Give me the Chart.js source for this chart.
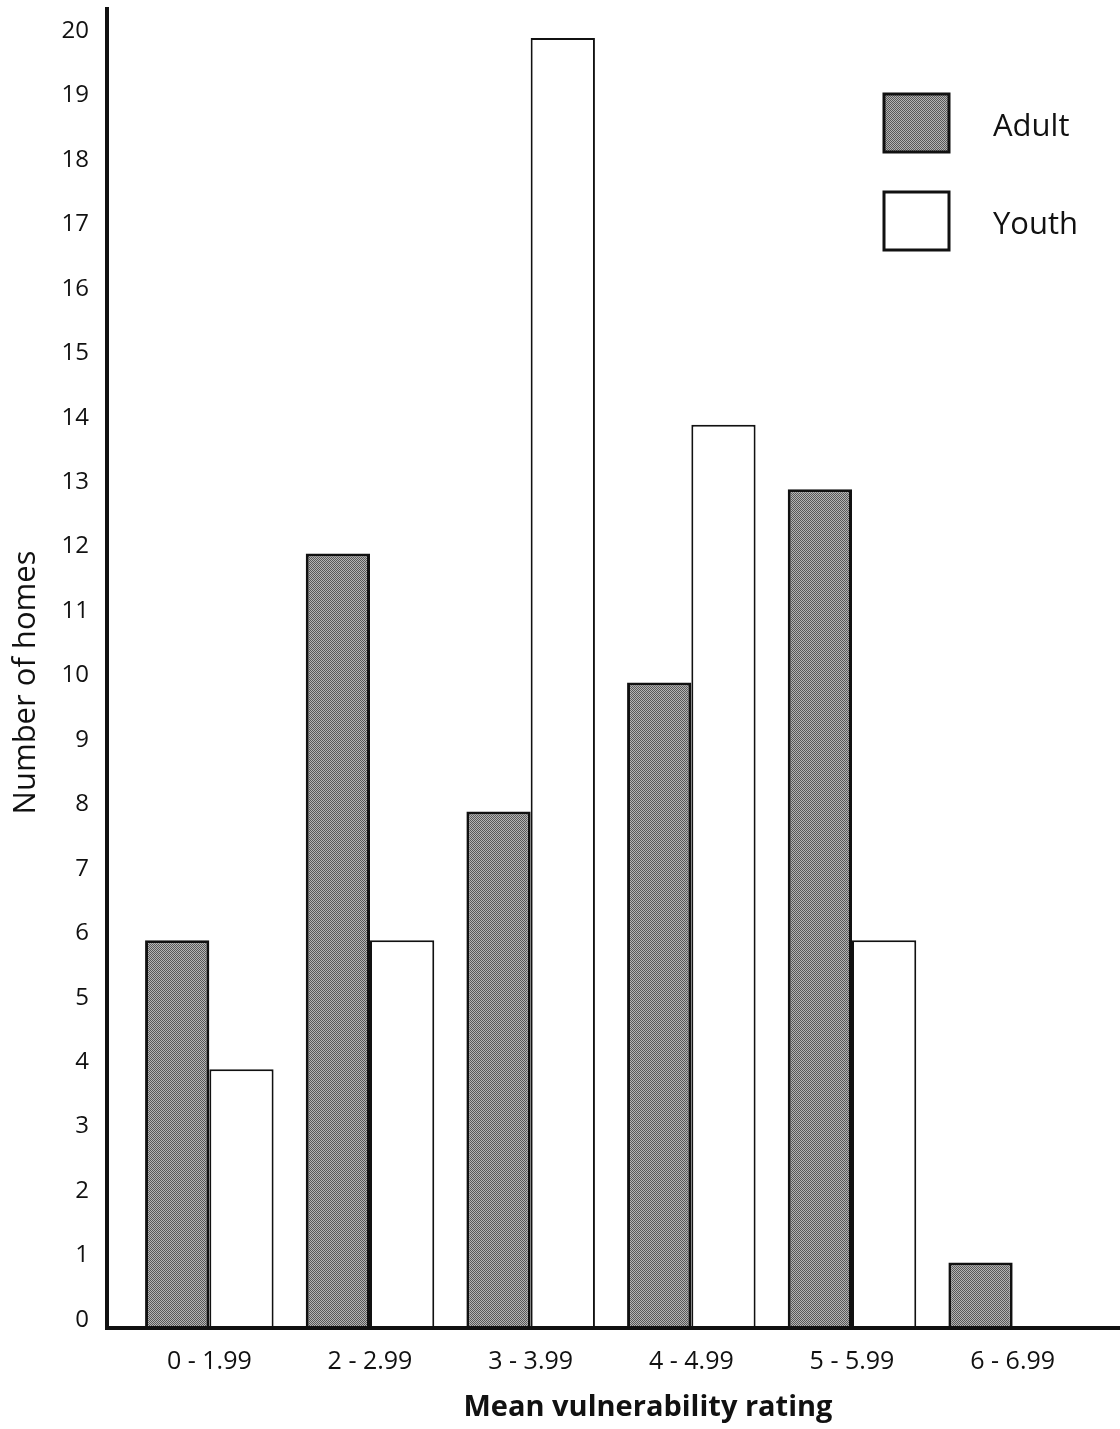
<!DOCTYPE html>
<html>
<head>
<meta charset="utf-8">
<script src="https://cdn.jsdelivr.net/npm/chart.js@4.4.1/dist/chart.umd.min.js"></script>
<style>
  html, body { margin: 0; padding: 0; background: #fff; }
  #wrap { width: 1120px; height: 1429px; }
</style>
</head>
<body>
<div id="wrap"><canvas id="chart" width="1120" height="1429"></canvas></div>
<script>
// data
const categories = ["0 - 1.99", "2 - 2.99", "3 - 3.99", "4 - 4.99", "5 - 5.99", "6 - 6.99"];
const adult = [6, 12, 8, 10, 13, 1];
const youth = [4, 6, 20, 14, 6, 0];
const seriesNames = ["Adult", "Youth"];
const xTitle = "Mean vulnerability rating";
const yTitle = "Number of homes";

const FONT = "'Open Sans', 'Lato', sans-serif";

// stippled grey fill like the print
function stipple() {
  const c = document.createElement("canvas");
  c.width = 2;
  c.height = 2;
  const g = c.getContext("2d");
  g.fillStyle = "#b4b4b4";
  g.fillRect(0, 0, 2, 2);
  g.fillStyle = "#585858";
  g.fillRect(0, 0, 1, 1);
  g.fillRect(1, 1, 1, 1);
  return g.createPattern(c, "repeat");
}
const grey = stipple();

// thick axis lines, the y one runs a bit left of the first bar group
const axisLines = {
  id: "axisLines",
  afterDatasetsDraw(chart) {
    const ctx = chart.ctx;
    const a = chart.chartArea;
    const y0 = chart.scales.y.getPixelForValue(0);
    const xAxis = a.left - 22;
    ctx.save();
    ctx.strokeStyle = "#111";
    ctx.lineWidth = 4;
    ctx.beginPath();
    ctx.moveTo(xAxis, 7);
    ctx.lineTo(xAxis, y0 + 2);
    ctx.moveTo(xAxis - 2, y0 + 1);
    ctx.lineTo(chart.width, y0 + 1);
    ctx.stroke();
    // x title
    ctx.fillStyle = "#111";
    ctx.font = "bold 29px " + FONT;
    ctx.textAlign = "center";
    ctx.textBaseline = "middle";
    ctx.fillText(xTitle, 648, 1408);
    ctx.restore();
  },
};

// legend boxes stacked in the top right corner
const boxLegend = {
  id: "boxLegend",
  afterDraw(chart) {
    const ctx = chart.ctx;
    const a = chart.chartArea;
    const left = a.right - 209;
    ctx.save();
    chart.data.datasets.forEach((ds, i) => {
      const top = a.top + 56 + i * 98;
      ctx.fillStyle = ds.backgroundColor;
      ctx.fillRect(left, top, 65, 58);
      ctx.lineWidth = 3;
      ctx.strokeStyle = "#111";
      ctx.strokeRect(left, top, 65, 58);
      ctx.fillStyle = "#111";
      ctx.font = "31px " + FONT;
      ctx.textBaseline = "middle";
      ctx.fillText(ds.label, left + 109, top + 33);
    });
    ctx.restore();
  },
};

new Chart(document.getElementById("chart"), {
  type: "bar",
  data: {
    labels: categories,
    datasets: [
      {
        label: seriesNames[0],
        data: adult,
        backgroundColor: grey,
        borderColor: "#111",
        borderWidth: 3,
      },
      {
        label: seriesNames[1],
        data: youth,
        backgroundColor: "#fff",
        borderColor: "#111",
        borderWidth: 2,
      },
    ],
  },
  options: {
    responsive: false,
    animation: false,
    layout: { padding: { top: 38, right: 27, left: 0, bottom: 0 } },
    categoryPercentage: 0.8,
    barPercentage: 1.0,
    plugins: {
      legend: { display: false },
      tooltip: { enabled: false },
    },
    scales: {
      x: {
        grid: { display: false, drawTicks: false },
        border: { display: false },
        ticks: { color: "#111", font: { family: FONT, size: 25 }, padding: 20, maxRotation: 0 },
        afterFit(s) { s.height = 102; },
      },
      y: {
        min: 0,
        max: 20,
        grid: { display: false, drawTicks: false },
        border: { display: false },
        ticks: {
          stepSize: 1,
          color: "#111",
          font: { family: FONT, size: 24 },
          padding: 40,
          labelOffset: -7,
        },
        title: {
          display: true,
          text: yTitle,
          color: "#111",
          font: { family: FONT, size: 31 },
          padding: { top: 8, bottom: 0 },
        },
        afterFit(s) {
          s.width = 129;
          // big label padding should not push the plot down
          s.paddingTop = 0;
          s.paddingBottom = 0;
        },
      },
    },
  },
  plugins: [axisLines, boxLegend],
});
</script>
</body>
</html>
